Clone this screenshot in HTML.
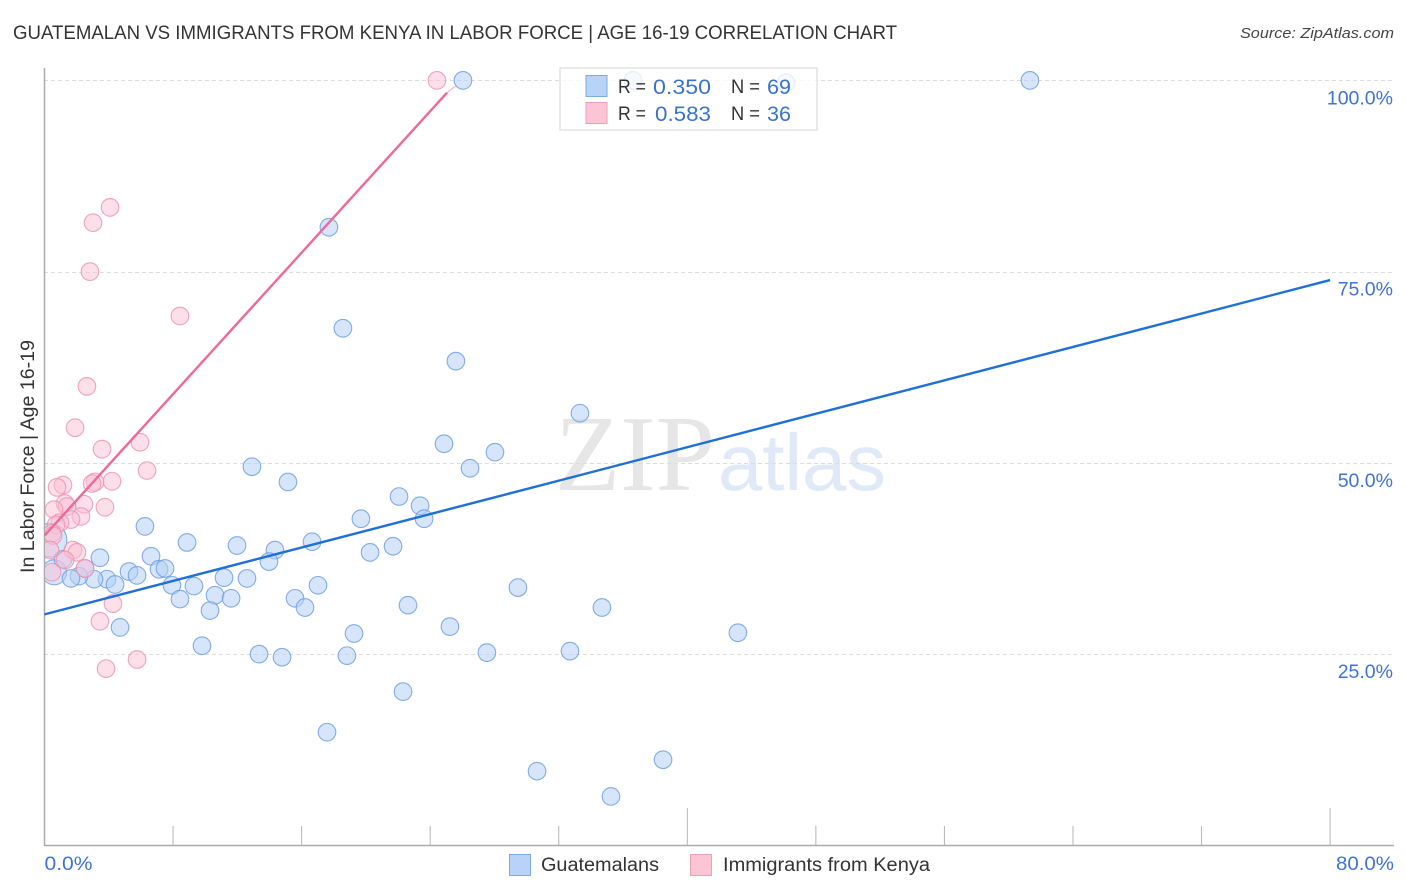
<!DOCTYPE html>
<html>
<head>
<meta charset="utf-8">
<title>Guatemalan vs Immigrants from Kenya in Labor Force</title>
<style>
html,body{margin:0;padding:0;background:#fff;width:1406px;height:892px;overflow:hidden}
svg{display:block}
text{font-family:"Liberation Sans",sans-serif}
</style>
</head>
<body>
<svg id="chart" width="1406" height="892" viewBox="0 0 1406 892">
  <defs><clipPath id="plot-clip"><rect x="45" y="60" width="1350" height="785"/></clipPath></defs>
  <text x="13" y="39" font-size="19" fill="#333" textLength="884" lengthAdjust="spacingAndGlyphs">GUATEMALAN VS IMMIGRANTS FROM KENYA IN LABOR FORCE | AGE 16-19 CORRELATION CHART</text>
  <text x="1394" y="38" font-size="15" font-style="italic" fill="#444" text-anchor="end" textLength="154" lengthAdjust="spacingAndGlyphs">Source: ZipAtlas.com</text>
  <g id="watermark">
    <text x="555" y="490" font-size="108" fill="#e6e6e6" textLength="160" lengthAdjust="spacingAndGlyphs" style="font-family:'Liberation Serif',serif">ZIP</text>
    <text x="718" y="490" font-size="80" fill="#dfe9f8" textLength="168" lengthAdjust="spacingAndGlyphs" style="font-family:'Liberation Sans',sans-serif">atlas</text>
  </g>
  <g id="grid"></g>
  <g id="axes"></g>
  <g id="points" clip-path="url(#plot-clip)"></g>
  <g id="trends"></g>
  <g>
    <rect x="560" y="68" width="257" height="62" fill="#fff" fill-opacity="0.78" stroke="#ddd" stroke-width="1.2"/>
    <rect x="586" y="75.500" width="21" height="21" fill="#b7d3f7" stroke="#7fa9e3"/>
    <rect x="586" y="102.500" width="21" height="21" fill="#fbc5d6" stroke="#f09db8"/>
    <text x="618" y="93" font-size="19" fill="#333" textLength="28" lengthAdjust="spacingAndGlyphs">R =</text>
    <text x="653" y="94" font-size="21.500" fill="#3b72cc" textLength="58" lengthAdjust="spacingAndGlyphs">0.350</text>
    <text x="731" y="93" font-size="19" fill="#333" textLength="29" lengthAdjust="spacingAndGlyphs">N =</text>
    <text x="767" y="94" font-size="21.500" fill="#3b72cc" textLength="24" lengthAdjust="spacingAndGlyphs">69</text>
    <text x="618" y="120" font-size="19" fill="#333" textLength="28" lengthAdjust="spacingAndGlyphs">R =</text>
    <text x="655" y="121" font-size="21.500" fill="#3b72cc" textLength="56" lengthAdjust="spacingAndGlyphs">0.583</text>
    <text x="731" y="120" font-size="19" fill="#333" textLength="29" lengthAdjust="spacingAndGlyphs">N =</text>
    <text x="767" y="121" font-size="21.500" fill="#3b72cc" textLength="24" lengthAdjust="spacingAndGlyphs">36</text>
  </g>
  <text transform="translate(34,573) rotate(-90)" font-size="19" fill="#333" textLength="233" lengthAdjust="spacingAndGlyphs">In Labor Force | Age 16-19</text>
  <g>
    <rect x="509.500" y="854.500" width="21" height="21" fill="#b7d3f7" stroke="#7fa9e3"/>
    <text x="541" y="871" font-size="19" fill="#333" textLength="118" lengthAdjust="spacingAndGlyphs">Guatemalans</text>
    <rect x="690.500" y="854.500" width="21" height="21" fill="#fbc5d6" stroke="#f09db8"/>
    <text x="723" y="871" font-size="19" fill="#333" textLength="207" lengthAdjust="spacingAndGlyphs">Immigrants from Kenya</text>
  </g>
</svg>
<script>
const yTickValues = [100, 75, 50, 25];
const yTickLabels = ['100.0%', '75.0%', '50.0%', '25.0%'];
const xTickValues = [8, 16, 24, 32, 40, 48, 56, 64, 72, 80];
const xMajorTicks = [40, 80];
const xEdgeValues = [0, 80];
const xEdgeLabels = ['0.0%', '80.0%'];

const guatemalanX = [0.34,0.6,26.04,36.62,46.14,61.32,17.7,18.57,25.6,33.32,24.86,28.03,26.48,12.91,15.15,22.06,23.37,23.62,19.69,6.25,8.87,16.65,11.98,14.34,21.69,20.26,6.63,3.45,13.97,1.15,5.26,7.13,7.5,5.76,3.89,3.08,2.15,1.65,2.52,4.39,7.93,9.3,11.17,12.6,17.02,29.46,8.43,10.61,11.61,15.59,16.21,10.3,22.62,34.69,4.7,19.26,25.23,43.15,9.8,13.35,14.78,18.82,27.53,32.7,22.31,17.58,30.65,38.49,35.25];
const guatemalanY = [39.9,35.7,100,100,99.7,100,80.8,67.6,63.3,56.5,52.5,51.4,49.3,49.5,47.5,45.6,44.4,42.7,42.7,41.7,39.6,39.7,39.2,38.6,39.1,38.3,37.8,37.6,37.1,37.4,35.8,36.1,36.2,35.3,34.8,34.8,35.2,34.9,36.2,34.1,34,33.9,35,34.9,34,33.7,32.2,32.7,32.3,32.3,31.1,30.7,31.4,31.1,28.5,27.7,28.6,27.8,26.1,25,24.6,24.8,25.2,25.4,20.1,14.8,9.7,11.2,6.4];
const guatemalanWeight = [3.7, 2];

const kenyaX = [24.42,4.08,3.02,2.83,8.43,2.64,1.9,3.58,5.94,6.38,4.2,3.14,2.96,1.15,0.78,3.76,2.46,1.28,1.4,0.59,2.27,1.65,0.96,0.72,0.47,0.53,0.34,1.77,2.02,1.28,2.52,0.47,4.26,3.45,5.76,3.83];
const kenyaY = [100,83.4,81.4,75,69.2,60,54.6,51.8,52.7,49,47.6,47.5,47.3,47.1,46.8,44.2,44.6,44.7,44.3,43.9,43,42.6,42.2,41.9,40.8,40.5,38.6,38.6,38.3,37.3,36.2,35.7,31.6,29.3,24.3,23.1];
const kenyaWeight = [1];

const guatemalanTrendX = [0, 80];
const guatemalanTrendY = [30.2, 73.9];
const kenyaTrendX = [0, 25.05];
const kenyaTrendY = [40.5, 98.4];
const kenyaTrendTailX = [25.05, 25.6];
const kenyaTrendTailY = [98.4, 99.3];

const SVGNS = 'http://www.w3.org/2000/svg';
const xScale = v => 44.5 + v * 16.07;
const yScale = v => 80.4 + (100 - v) * 7.65;
function make(parent, tag, attrs) {
  const el = document.createElementNS(SVGNS, tag);
  for (const k in attrs) el.setAttribute(k, attrs[k]);
  parent.appendChild(el);
  return el;
}
const gridG = document.getElementById('grid');
const axesG = document.getElementById('axes');
const pointsG = document.getElementById('points');
const trendsG = document.getElementById('trends');

yTickValues.forEach((v, i) => {
  const line = make(gridG, 'line', {x1: 44, x2: 1393, y1: Math.round(yScale(v)) + 0.5, y2: Math.round(yScale(v)) + 0.5, stroke: '#dcdcdc', 'stroke-width': 1, 'stroke-dasharray': '4 3'});
  
  
  const label = make(axesG, 'text', {x: 1393, y: yScale(v) + 24, 'font-size': 19.5, fill: '#3f72d4', 'text-anchor': 'end'});
  label.textContent = yTickLabels[i];
  
  
});

const yAxisLine = make(axesG, 'line', {x1: 44.5, x2: 44.5, y1: 68, y2: 846, stroke: '#aaa', 'stroke-width': 1.5});


const xAxisLine = make(axesG, 'line', {x1: 44, x2: 1394, y1: 845.5, y2: 845.5, stroke: '#aaa', 'stroke-width': 1.5});



xTickValues.forEach(v => {
  const top = xMajorTicks.includes(v) ? 808 : 826;
  const tick = make(axesG, 'line', {x1: xScale(v), x2: xScale(v), y1: top, y2: 845, stroke: '#b5b5b5', 'stroke-width': 1});
  
  
});
xEdgeValues.forEach((v, i) => {
  const attrs = i === 0
    ? {x: 44.5, y: 870, 'font-size': 19.5, fill: '#3f72d4', textLength: 48, lengthAdjust: 'spacingAndGlyphs'}
    : {x: 1336, y: 870, 'font-size': 19.5, fill: '#3f72d4', textLength: 58, lengthAdjust: 'spacingAndGlyphs'};
  const label = make(axesG, 'text', attrs);
  label.textContent = xEdgeLabels[i];
  
  
});

function radius(weight) { return 8.8 * Math.sqrt(weight || 1); }

guatemalanX.forEach((x, i) => {
  const c = make(pointsG, 'circle', {cx: xScale(x), cy: yScale(guatemalanY[i]), r: radius(guatemalanWeight[i]), fill: '#b4d0f5', 'fill-opacity': 0.55, stroke: '#6f9fe2', 'stroke-opacity': 0.85, 'stroke-width': 1.1});
  
  
});
kenyaX.forEach((x, i) => {
  const c = make(pointsG, 'circle', {cx: xScale(x), cy: yScale(kenyaY[i]), r: radius(kenyaWeight[i]), fill: '#fbc0d3', 'fill-opacity': 0.5, stroke: '#ee94b2', 'stroke-opacity': 0.85, 'stroke-width': 1.1});
  
  
});

const blueTrend = make(trendsG, 'line', {x1: xScale(guatemalanTrendX[0]), y1: yScale(guatemalanTrendY[0]), x2: xScale(guatemalanTrendX[1]), y2: yScale(guatemalanTrendY[1]), stroke: '#1f6fd8', 'stroke-width': 2.4});


const pinkTrend = make(trendsG, 'line', {x1: xScale(kenyaTrendX[0]), y1: yScale(kenyaTrendY[0]), x2: xScale(kenyaTrendX[1]), y2: yScale(kenyaTrendY[1]), stroke: '#ec6a96', 'stroke-width': 2.4});


const pinkTail = make(trendsG, 'line', {x1: xScale(kenyaTrendTailX[0]), y1: yScale(kenyaTrendTailY[0]), x2: xScale(kenyaTrendTailX[1]), y2: yScale(kenyaTrendTailY[1]), stroke: '#f3a5bf', 'stroke-width': 1});


</script>
</body>
</html>
